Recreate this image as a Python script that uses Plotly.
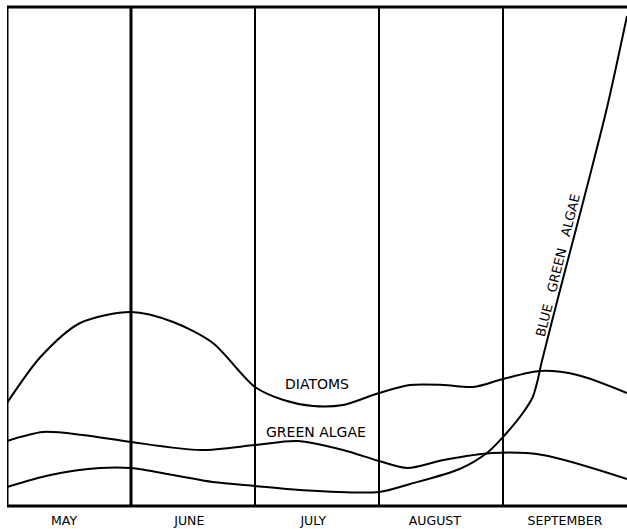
import plotly.graph_objects as go

# Month categories (each month spans one unit on the x axis)
months = ["MAY", "JUNE", "JULY", "AUGUST", "SEPTEMBER"]

# Relative abundance curves (x in months from start of May, y in relative units)
diatoms_x = [0, 0.27, 0.59, 1.0, 1.34, 1.66, 2.0, 2.23, 2.47, 2.71, 3.0, 3.25, 3.52, 3.76, 4.0, 4.30, 4.60, 5.0]
diatoms_y = [103, 149, 183, 194, 184, 163, 119, 106, 100, 101, 113, 121, 121, 119, 127, 135, 131, 113]

green_x = [0, 0.29, 0.61, 1.0, 1.56, 2.0, 2.34, 2.71, 3.0, 3.23, 3.52, 3.92, 4.32, 5.0]
green_y = [65, 74, 71, 64, 56, 61, 65, 56, 45, 38, 46, 53, 51, 27]

bluegreen_x = [0, 0.35, 0.75, 1.0, 1.34, 1.66, 2.0, 2.36, 3.0, 3.25, 3.65, 3.87, 4.0, 4.16, 4.24, 4.28, 4.31, 4.46, 4.65, 4.84, 5.0]
bluegreen_y = [19, 31, 38, 38, 31, 24, 20, 16, 14, 22, 37, 53, 69, 93, 109, 126, 143, 216, 306, 399, 490]

fig = go.Figure()
for xs, ys in [(diatoms_x, diatoms_y), (green_x, green_y), (bluegreen_x, bluegreen_y)]:
    fig.add_trace(go.Scatter(x=xs, y=ys, mode="lines",
                             line=dict(color="black", width=2, shape="spline", smoothing=0.8),
                             showlegend=False, hoverinfo="skip"))

# frame and month dividers
shapes = []
shapes.append(dict(type="line", xref="x", yref="paper", x0=0, x1=5, y0=1, y1=1,
                   line=dict(color="black", width=3)))
shapes.append(dict(type="line", xref="x", yref="paper", x0=0, x1=5, y0=0, y1=0,
                   line=dict(color="black", width=3)))
for i, w in zip(range(0, 5), [3, 3, 2, 2, 2]):
    shapes.append(dict(type="line", xref="x", yref="paper", x0=i, x1=i, y0=0, y1=1,
                       line=dict(color="black", width=w)))

font_family = "DejaVu Sans"
annotations = [
    dict(x=2.50, y=122, text="DIATOMS", showarrow=False, xref="x", yref="y",
         font=dict(family=font_family, size=14, color="black")),
    dict(x=2.49, y=74, text="GREEN ALGAE", showarrow=False, xref="x", yref="y",
         font=dict(family=font_family, size=14, color="black")),
    dict(x=4.44, y=241, text="BLUE\u00a0\u00a0 GREEN\u00a0\u00a0 ALGAE", showarrow=False,
         xref="x", yref="y", textangle=-76,
         font=dict(family=font_family, size=13, color="black")),
]

fig.update_layout(
    width=627, height=529,
    margin=dict(l=7, r=0, t=7, b=23),
    paper_bgcolor="white", plot_bgcolor="white",
    shapes=shapes, annotations=annotations,
    xaxis=dict(range=[0, 5], showgrid=False, zeroline=False, showline=False,
               tickmode="array", tickvals=[0.46, 1.47, 2.47, 3.45, 4.5], ticktext=months,
               ticks="", ticklabelstandoff=5,
               tickfont=dict(family=font_family, size=12.5, color="black"),
               fixedrange=True),
    yaxis=dict(range=[0, 499], showgrid=False, zeroline=False, showline=False,
               showticklabels=False, ticks="", fixedrange=True),
)

fig.write_html("out.html", config={"displayModeBar": False},
               post_script="document.body.style.margin='0';")
